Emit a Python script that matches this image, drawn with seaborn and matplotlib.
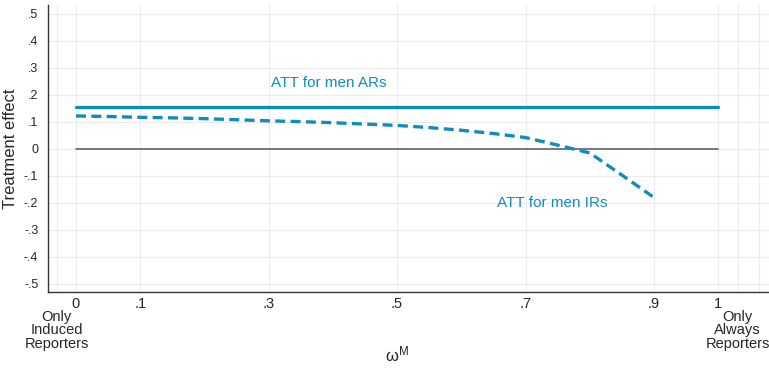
import pandas as pd
import matplotlib.pyplot as plt
import seaborn as sns
import numpy as np

# share of always reporters (omega^M) and the two ATT series
omega_ar = [0.0, 1.0]
att_ar = [0.155, 0.155]

omega_ir = [0.0, 0.05, 0.1, 0.15, 0.2, 0.25, 0.3, 0.35, 0.4, 0.45, 0.5,
            0.55, 0.6, 0.65, 0.7, 0.75, 0.8, 0.85, 0.9]
att_ir = [0.122, 0.120, 0.117, 0.115, 0.112, 0.108, 0.104, 0.101, 0.097, 0.092, 0.087,
          0.079, 0.069, 0.057, 0.042, 0.014, -0.015, -0.097, -0.180]

zero_x = [0.0, 1.0]
zero_y = [0.0, 0.0]

# x labels: numeric ticks plus the two text labels set a bit outside 0 and 1
xticks = [-0.03, 0, 0.1, 0.3, 0.5, 0.7, 0.9, 1, 1.03, 1.064]
xticklabels = ['Only\nInduced\nReporters', '0', '.1', '.3', '.5', '.7', '.9', '1',
               'Only\nAlways\nReporters', '']
yticks = [0.5, 0.4, 0.3, 0.2, 0.1, 0, -0.1, -0.2, -0.3, -0.4, -0.5]
yticklabels = ['.5', '.4', '.3', '.2', '.1', '0', '-.1', '-.2', '-.3', '-.4', '-.5']

blue = '#0f8dc1'

sns.set_style("white")
plt.rcParams['font.family'] = ['Liberation Sans', 'DejaVu Sans']

fig = plt.figure(figsize=(7.69, 3.69), dpi=100)
ax = fig.add_axes([0.0624, 0.2087, 0.9376, 0.7777])

# grid
for y in yticks:
    ax.axhline(y, color='#ececec', lw=0.8, zorder=0)
for x in xticks:
    ax.axvline(x, color='#ececec', lw=0.8, zorder=0)

sns.lineplot(x=zero_x, y=zero_y, ax=ax, color='#6e6e6e', lw=1.3)
sns.lineplot(x=omega_ar, y=att_ar, ax=ax, color=blue, lw=2.4)
ir = pd.DataFrame({'omega': omega_ir, 'att': att_ir})
sns.lineplot(data=ir, x='omega', y='att', ax=ax, color=blue, lw=2.4)
ax.lines[-1].set_dashes((3.0, 1.6))

ax.text(0.394, 0.245, 'ATT for men ARs', color=blue, fontsize=11, ha='center', va='center')
ax.text(0.741, -0.2, 'ATT for men IRs', color=blue, fontsize=11, ha='center', va='center')

ax.set_xlim(-0.0436, 1.079)
ax.set_ylim(-0.53, 0.533)
ax.set_xticks(xticks)
ax.set_xticklabels(xticklabels, fontsize=10.5, linespacing=0.95)
ax.set_yticks(yticks)
ax.set_yticklabels(yticklabels, fontsize=9)
ax.tick_params(axis='y', direction='out', length=4, width=0.8, color='#333333', pad=3)
ax.tick_params(axis='x', length=0, pad=3.5)
# text labels sit one line below the numbers
ticks = ax.xaxis.get_major_ticks()
ticks[0].set_pad(13)
ticks[8].set_pad(13)

for s in ['top', 'right']:
    ax.spines[s].set_visible(False)
for s in ['left', 'bottom']:
    ax.spines[s].set_color('#333333')
    ax.spines[s].set_linewidth(1.0)

ax.set_ylabel('Treatment effect', fontsize=12, labelpad=4)
ax.set_xlabel(r'$\mathregular{\omega^{M}}$', fontsize=12, va='center')
ax.xaxis.set_label_coords(0.484, -0.216)

fig.savefig('out.png', dpi=100)
